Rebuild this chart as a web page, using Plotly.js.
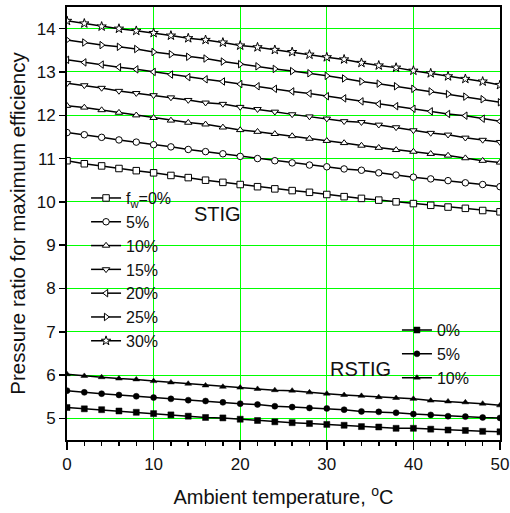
<!DOCTYPE html>
<html>
<head>
<meta charset="utf-8">
<script src="https://cdn.plot.ly/plotly-3.0.1.min.js"></script>
<style>html,body{margin:0;padding:0;background:#fff;}#chart{width:510px;height:513px;}</style>
</head>
<body>
<div id="chart"></div>
<script>
// Ambient temperature, °C
const temperature = [0,2,4,6,8,10,12,14,16,18,20,22,24,26,28,30,32,34,36,38,40,42,44,46,48,50];

// STIG series (water injection fraction f_w)
const stig0  = [10.95,10.88,10.83,10.77,10.72,10.67,10.61,10.56,10.50,10.45,10.40,10.35,10.30,10.26,10.22,10.17,10.12,10.08,10.04,10.00,9.96,9.92,9.88,9.85,9.80,9.77];
const stig5  = [11.60,11.55,11.49,11.43,11.38,11.32,11.27,11.21,11.16,11.11,11.05,11.00,10.95,10.90,10.85,10.81,10.76,10.73,10.67,10.62,10.57,10.53,10.49,10.44,10.40,10.35];
const stig10 = [12.22,12.18,12.12,12.06,12.00,11.94,11.88,11.83,11.79,11.72,11.66,11.62,11.57,11.52,11.46,11.41,11.36,11.30,11.25,11.20,11.16,11.11,11.07,11.01,10.95,10.91];
const stig15 = [12.74,12.69,12.63,12.56,12.51,12.46,12.41,12.35,12.29,12.26,12.19,12.14,12.08,12.02,11.97,11.92,11.86,11.84,11.78,11.72,11.65,11.59,11.55,11.48,11.43,11.38];
const stig20 = [13.28,13.22,13.17,13.11,13.06,13.00,12.94,12.88,12.83,12.78,12.72,12.67,12.61,12.55,12.50,12.44,12.39,12.32,12.26,12.21,12.15,12.09,12.03,11.99,11.92,11.86];
const stig25 = [13.74,13.68,13.62,13.58,13.53,13.46,13.41,13.35,13.31,13.24,13.18,13.13,13.07,13.02,12.97,12.91,12.85,12.78,12.73,12.67,12.61,12.55,12.49,12.43,12.37,12.30];
const stig30 = [14.18,14.12,14.05,14.00,13.95,13.90,13.84,13.78,13.74,13.68,13.61,13.57,13.51,13.46,13.40,13.34,13.29,13.21,13.15,13.10,13.03,12.97,12.90,12.84,12.78,12.70];

// RSTIG series
const rstig0  = [5.25,5.22,5.20,5.17,5.14,5.11,5.08,5.05,5.02,5.01,4.98,4.95,4.92,4.90,4.88,4.86,4.84,4.81,4.80,4.77,4.77,4.75,4.73,4.72,4.70,4.69];
const rstig5  = [5.64,5.60,5.57,5.54,5.51,5.48,5.45,5.42,5.40,5.37,5.34,5.32,5.28,5.26,5.24,5.23,5.20,5.16,5.15,5.13,5.10,5.08,5.05,5.04,5.02,5.01];
const rstig10 = [6.02,5.98,5.95,5.92,5.90,5.86,5.83,5.80,5.76,5.73,5.71,5.68,5.65,5.64,5.60,5.57,5.54,5.52,5.49,5.47,5.45,5.41,5.39,5.37,5.34,5.30];

const stigNames  = ['f<sub>w</sub>=0%','5%','10%','15%','20%','25%','30%'];
const rstigNames = ['0%','5%','10%'];

const stigSeries  = [stig0, stig5, stig10, stig15, stig20, stig25, stig30];
const rstigSeries = [rstig0, rstig5, rstig10];

const stigSymbols  = ['square','circle','triangle-up','triangle-down','triangle-left','triangle-right','star'];
const rstigSymbols = ['square','circle','triangle-up'];

const FONT = 'Arial, "Liberation Sans", sans-serif';
const GRID = 'rgb(0,255,0)';
const TXT = '#111';
const NB = '\u00a0\u00a0\u00a0\u00a0\u00a0\u00a0';

const traces = [];
stigSeries.forEach((ys, i) => {
  traces.push({
    x: temperature, y: ys, name: stigNames[i], type: 'scatter', mode: 'lines+markers',
    line: {color: 'black', width: 1.5},
    marker: {symbol: stigSymbols[i], size: i === 6 ? 7 : 6.5, color: 'white', line: {color: 'black', width: 1}},
    legend: 'legend'
  });
});
rstigSeries.forEach((ys, i) => {
  traces.push({
    x: temperature, y: ys, name: rstigNames[i], type: 'scatter', mode: 'lines+markers',
    line: {color: 'black', width: 1.5},
    marker: {symbol: rstigSymbols[i], size: 6, color: 'black', line: {color: 'black', width: 0.5}},
    legend: 'legend2'
  });
});

const layout = {
  width: 510, height: 513,
  margin: {l: 67, r: 10, t: 7, b: 73},
  paper_bgcolor: 'white', plot_bgcolor: 'white',
  font: {family: FONT, size: 17, color: TXT},
  showlegend: true,
  xaxis: {
    range: [0, 50], tick0: 0, dtick: 10,
    showgrid: true, gridcolor: GRID, gridwidth: 1,
    zeroline: false,
    showline: true, linecolor: 'black', linewidth: 2, mirror: true,
    ticks: 'outside', ticklen: 8, tickwidth: 1.5, tickcolor: 'black',
    minor: {dtick: 2, ticks: 'outside', ticklen: 4, tickwidth: 1.5, tickcolor: 'black', showgrid: false},
    tickfont: {family: FONT, size: 17, color: TXT},
    title: {text: 'Ambient temperature, <sup>o</sup>C', font: {family: FONT, size: 20, color: TXT}, standoff: 17}
  },
  yaxis: {
    range: [4.5, 14.5], tick0: 5, dtick: 1,
    showgrid: true, gridcolor: GRID, gridwidth: 1,
    zeroline: false,
    showline: true, linecolor: 'black', linewidth: 2, mirror: true,
    ticks: 'outside', ticklen: 6, tickwidth: 1.5, tickcolor: 'black',
    tickfont: {family: FONT, size: 17, color: TXT},
    title: {text: 'Pressure ratio for maximum efficiency' + NB, font: {family: FONT, size: 20.5, color: TXT}, standoff: 6}
  },
  legend: {
    x: 0.044, y: 0.598, xanchor: 'left', yanchor: 'top',
    bgcolor: 'rgba(0,0,0,0)', borderwidth: 0,
    font: {family: FONT, size: 16, color: TXT},
    tracegroupgap: 0
  },
  legend2: {
    x: 0.762, y: 0.293, xanchor: 'left', yanchor: 'top',
    bgcolor: 'rgba(0,0,0,0)', borderwidth: 0,
    font: {family: FONT, size: 16, color: TXT},
    tracegroupgap: 0
  },
  annotations: [
    {text: 'STIG', xref: 'paper', yref: 'paper', x: 0.288, y: 0.522, xanchor: 'left', yanchor: 'middle', showarrow: false, font: {family: FONT, size: 20, color: TXT}},
    {text: 'RSTIG', xref: 'paper', yref: 'paper', x: 0.752, y: 0.164, xanchor: 'right', yanchor: 'middle', showarrow: false, font: {family: FONT, size: 20, color: TXT}}
  ]
};

Plotly.newPlot('chart', traces, layout, {displayModeBar: false, staticPlot: true});
</script>
</body>
</html>
